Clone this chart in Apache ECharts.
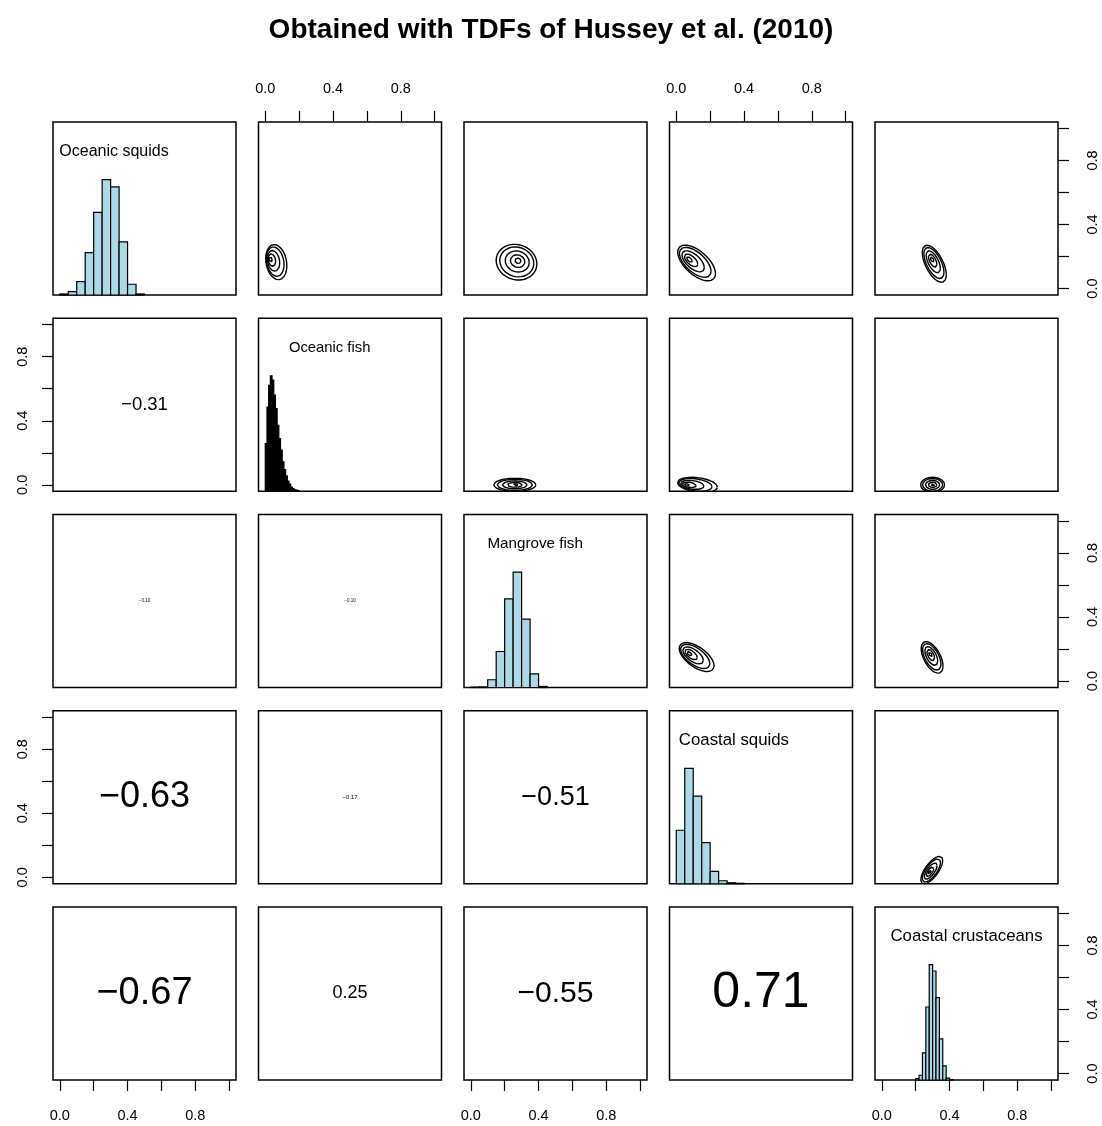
<!DOCTYPE html>
<html>
<head>
<meta charset="utf-8">
<title>Obtained with TDFs of Hussey et al. (2010)</title>
<script src="https://cdn.jsdelivr.net/npm/echarts@6/dist/echarts.min.js"></script>
<style>
html, body { margin: 0; padding: 0; background: #fff; }
#main { width: 1102px; height: 1126px; }
</style>
</head>
<body>
<div id="main"></div>
<script>
var chartTitle = 'Obtained with TDFs of Hussey et al. (2010)';
var groups = ['Oceanic squids', 'Oceanic fish', 'Mangrove fish', 'Coastal squids', 'Coastal crustaceans'];

// diagonal histograms: first break, bin width, bar heights (tallest bar = 1)
var histFrom = [0.0, 0.0, 0.0, 0.0, 0.20];
var histBin = [0.05, 0.01, 0.05, 0.05, 0.02];
var histOceanicSquids = [0.009, 0.029, 0.116, 0.368, 0.716, 1.0, 0.937, 0.461, 0.093, 0.009];
var histOceanicFish = [0.414, 0.729, 0.919, 1.0, 0.963, 0.833, 0.717, 0.572, 0.457, 0.356,
    0.254, 0.188, 0.133, 0.089, 0.061, 0.037, 0.023, 0.015, 0.009, 0.006];
var histMangroveFish = [0.003, 0.005, 0.067, 0.312, 0.769, 1.0, 0.592, 0.119, 0.009];
var histCoastalSquids = [0.464, 1.0, 0.759, 0.357, 0.107, 0.026, 0.009, 0.004];
var histCoastalCrust = [0.012, 0.041, 0.236, 0.633, 1.0, 0.945, 0.715, 0.356, 0.122, 0.017, 0.004];
var histHeights = [histOceanicSquids, histOceanicFish, histMangroveFish, histCoastalSquids, histCoastalCrust];

// lower panels: correlation coefficients
var corRow = [1, 2, 2, 3, 3, 3, 4, 4, 4, 4];
var corCol = [0, 0, 1, 0, 1, 2, 0, 1, 2, 3];
var corValue = [-0.31, -0.10, -0.10, -0.63, -0.17, -0.51, -0.67, 0.25, -0.55, 0.71];

// upper panels: 2D density blobs (mean, sd, correlation, drift of the outer contours)
var kdRow = [0, 0, 0, 0, 1, 1, 1, 2, 2, 3];
var kdCol = [1, 2, 3, 4, 2, 3, 4, 3, 4, 4];
var kdMeanX = [0.025, 0.28, 0.07, 0.295, 0.26, 0.05, 0.30, 0.07, 0.285, 0.28];
var kdMeanY = [0.185, 0.175, 0.185, 0.185, 0.0, 0.0, 0.0, 0.175, 0.17, 0.03];
var kdSdX = [0.029, 0.056, 0.052, 0.033, 0.058, 0.055, 0.033, 0.048, 0.030, 0.030];
var kdSdY = [0.051, 0.052, 0.052, 0.054, 0.019, 0.022, 0.022, 0.042, 0.046, 0.040];
var kdRho = [-0.2, -0.1, -0.6, -0.6, 0.0, -0.3, 0.0, -0.6, -0.55, 0.7];
var kdShiftX = [0.04, -0.01, 0.05, 0.015, 0.0, 0.075, 0.0, 0.05, 0.012, 0.015];
var kdShiftY = [-0.02, -0.01, -0.025, -0.03, 0.0, 0.0, 0.0, -0.025, -0.022, 0.015];
var kdLevels = [0.1, 0.2, 0.45, 0.75, 0.95];

// axis ticks
var tickValues = [0, 0.2, 0.4, 0.6, 0.8, 1.0];
var tickLabels = [0, 0.4, 0.8];

// layout
var colLeft = [53, 258.5, 464, 669.5, 875];
var rowTop = [122, 318.25, 514.5, 710.75, 907];
var panelW = 183, panelH = 173;
var labelX = [0.32, 0.38, 0.38, 0.34, 0.50];
var labelFont = [16, 14.8, 15.2, 16.8, 16.8];
var corFont = [18.5, 4.5, 4.5, 36, 6, 27, 38, 18, 30, 50];
var fontFam = '"Liberation Sans", Arial, Helvetica, sans-serif';
var blue = '#ADD8E6';

var myChart = echarts.init(document.getElementById('main'));

var grids = [], xAxes = [], yAxes = [], series = [];

function fmtCor(v) {
    return (v < 0 ? '\u2212' : '') + Math.abs(v).toFixed(2);
}

for (var i = 0; i < 5; i++) {
    for (var j = 0; j < 5; j++) {
        var k = i * 5 + j;
        grids.push({
            left: colLeft[j], top: rowTop[i], width: panelW, height: panelH,
            show: true, borderColor: '#000', borderWidth: 1.5, backgroundColor: 'transparent'
        });
        var topAx = (i == 0 && j % 2 == 1);
        var botAx = (i == 4 && j % 2 == 0);
        var leftAx = (j == 0 && i % 2 == 1);
        var rightAx = (j == 4 && i % 2 == 0);
        xAxes.push({
            type: 'value', gridIndex: k, min: -0.04, max: 1.04,
            position: topAx ? 'top' : 'bottom',
            axisLine: { show: false, onZero: false },
            splitLine: { show: false },
            axisTick: { show: topAx || botAx, customValues: tickValues, length: 11, lineStyle: { color: '#000', width: 1.2 } },
            axisLabel: {
                show: topAx || botAx, customValues: tickLabels, margin: topAx ? 26 : 28,
                color: '#000', fontSize: 14.5, fontFamily: fontFam,
                formatter: function (v) { return v.toFixed(1); }
            }
        });
        yAxes.push({
            type: 'value', gridIndex: k, min: -0.04, max: 1.04,
            position: leftAx ? 'left' : 'right',
            axisLine: { show: false, onZero: false },
            splitLine: { show: false },
            axisTick: { show: leftAx || rightAx, customValues: tickValues, length: 11, lineStyle: { color: '#000', width: 1.2 } },
            axisLabel: {
                show: leftAx || rightAx, customValues: tickLabels, margin: leftAx ? 23 : 27, rotate: 90,
                color: '#000', fontSize: 14.5, fontFamily: fontFam,
                formatter: function (v) { return v.toFixed(1); }
            }
        });
    }
}

// histogram axes (0 .. 1.5 like R's pairs diag panel)
for (var d = 0; d < 5; d++) {
    yAxes.push({ type: 'value', gridIndex: d * 5 + d, min: 0, max: 1.5, show: false, splitLine: { show: false } });
}

// diagonal: histograms + names
for (var d = 0; d < 5; d++) {
    var g = d * 5 + d;
    var rows = histHeights[d].map(function (h, b) {
        var x0 = histFrom[d] + b * histBin[d];
        return [x0, x0 + histBin[d], h];
    });
    var fillCol = (d == 1) ? '#000' : blue;
    series.push({
        type: 'custom',
        xAxisIndex: g, yAxisIndex: 25 + d,
        data: rows,
        encode: { x: [0, 1], y: 2 },
        renderItem: (function (fill) {
            return function (params, api) {
                var p0 = api.coord([api.value(0), 0]);
                var p1 = api.coord([api.value(1), api.value(2)]);
                return {
                    type: 'rect',
                    shape: { x: p0[0], y: p1[1], width: p1[0] - p0[0], height: p0[1] - p1[1] },
                    style: { fill: fill, stroke: '#000', lineWidth: 1.2 }
                };
            };
        })(fillCol)
    });
    series.push({
        type: 'scatter',
        xAxisIndex: g, yAxisIndex: 25 + d,
        data: [{ name: groups[d], value: [labelX[d], 1.245] }],
        symbolSize: 0,
        silent: true,
        itemStyle: { opacity: 1 },
        label: { show: true, position: 'inside', formatter: '{b}', color: '#000', fontSize: labelFont[d], fontFamily: fontFam }
    });
}

// lower: correlations
for (var c = 0; c < corValue.length; c++) {
    var g = corRow[c] * 5 + corCol[c];
    series.push({
        type: 'scatter',
        xAxisIndex: g, yAxisIndex: g,
        data: [{ name: fmtCor(corValue[c]), value: [0.5, 0.5] }],
        symbolSize: 0,
        silent: true,
        itemStyle: { opacity: 1 },
        label: { show: true, position: 'inside', formatter: '{b}', color: '#000', fontSize: corFont[c], fontFamily: fontFam }
    });
}

// upper: density contours
for (var p = 0; p < kdRow.length; p++) {
    var g = kdRow[p] * 5 + kdCol[p];
    var rMax = Math.sqrt(-2 * Math.log(kdLevels[0]));
    for (var l = 0; l < kdLevels.length; l++) {
        var r = Math.sqrt(-2 * Math.log(kdLevels[l]));
        var cx = kdMeanX[p] + kdShiftX[p] * r / rMax;
        var cy = kdMeanY[p] + kdShiftY[p] * r / rMax;
        var pts = [];
        for (var s = 0; s <= 72; s++) {
            var t = s / 72 * Math.PI * 2;
            var u = Math.cos(t), w = Math.sin(t);
            pts.push([cx + r * kdSdX[p] * u,
                cy + r * kdSdY[p] * (kdRho[p] * u + Math.sqrt(1 - kdRho[p] * kdRho[p]) * w)]);
        }
        series.push({
            type: 'line',
            xAxisIndex: g, yAxisIndex: g,
            data: pts,
            showSymbol: false, symbol: 'none',
            silent: true, clip: true,
            lineStyle: { color: '#000', width: 1.4 }
        });
    }
}

var option = {
    backgroundColor: '#fff',
    animation: false,
    title: {
        text: chartTitle, left: 'center', top: 11,
        textStyle: { fontSize: 28, fontWeight: 'bold', color: '#000', fontFamily: fontFam }
    },
    grid: grids,
    xAxis: xAxes,
    yAxis: yAxes,
    series: series
};
myChart.setOption(option);
</script>
</body>
</html>
